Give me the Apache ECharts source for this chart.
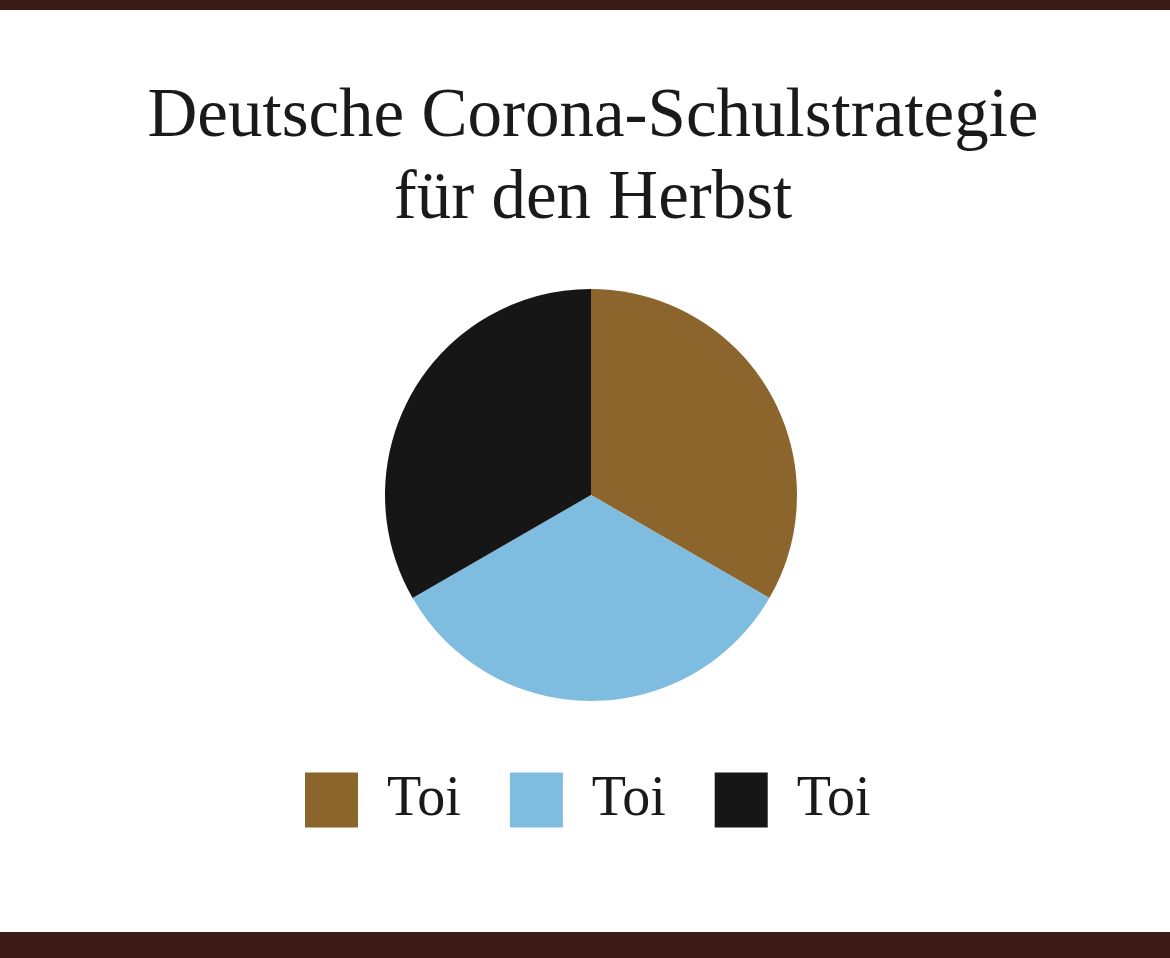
<!DOCTYPE html>
<html>
<head>
<meta charset="utf-8">
<script src="https://cdn.jsdelivr.net/npm/echarts@6/dist/echarts.min.js"></script>
<style>
html,body{margin:0;padding:0;background:#fff;}
#chart{width:1170px;height:958px;}
</style>
</head>
<body>
<div id="chart"></div>
<script>
var titleLines = ['Deutsche Corona-Schulstrategie', 'für den Herbst'];
var categories = ['Toi', 'Toi ', 'Toi  '];
var legendLabels = ['Toi', 'Toi', 'Toi'];
var values = [1, 1, 1];
var colors = ['#8c652c', '#7fbde0', '#161616'];

var chart = echarts.init(document.getElementById('chart'));
var data = categories.map(function (c, i) {
  return { name: c, value: values[i], itemStyle: { color: colors[i] } };
});
chart.setOption({
  backgroundColor: '#ffffff',
  animation: false,
  title: {
    text: titleLines.join('\n'),
    left: 588,
    textAlign: 'center',
    top: 72,
    textStyle: {
      fontFamily: 'Liberation Serif',
      fontWeight: 'normal',
      fontSize: 69,
      lineHeight: 82,
      color: '#1a1a1a'
    }
  },
  legend: {
    data: categories,
    left: 300,
    top: 767,
    itemWidth: 53,
    itemHeight: 55,
    itemGap: 49,
    icon: 'rect',
    formatter: function (n) { return legendLabels[categories.indexOf(n)]; },
    textStyle: {
      fontFamily: 'Liberation Serif',
      fontSize: 56,
      color: '#1a1a1a',
      padding: [0, 0, 0, 24]
    }
  },
  graphic: [
    { type: 'rect', shape: { x: 0, y: 0, width: 1170, height: 10 }, style: { fill: '#3d1c17' } },
    { type: 'rect', shape: { x: 0, y: 932, width: 1170, height: 26 }, style: { fill: '#3d1c17' } }
  ],
  series: [{
    type: 'pie',
    center: [591, 495],
    radius: [0, 206],
    startAngle: 90,
    clockwise: true,
    label: { show: false },
    labelLine: { show: false },
    itemStyle: { borderWidth: 0 },
    emphasis: { disabled: true },
    data: data
  }]
});
</script>
</body>
</html>
